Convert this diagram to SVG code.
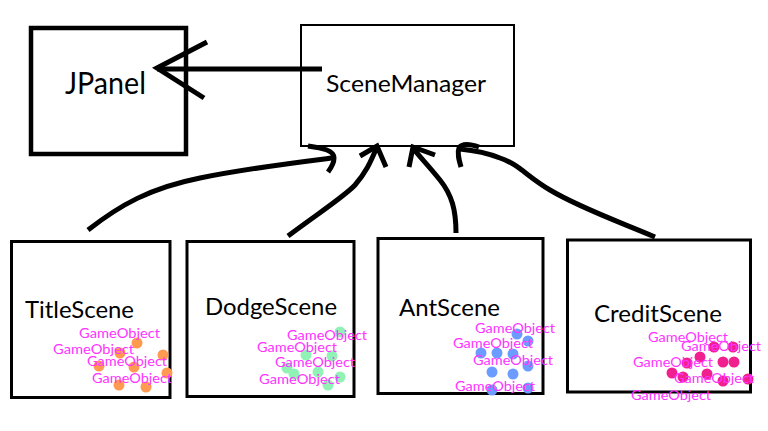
<svg xmlns="http://www.w3.org/2000/svg" width="768" height="431" viewBox="0 0 768 431">
<style>
.box{fill:#fff;stroke:#000}
.big{font-family:Lato,"Liberation Sans",sans-serif;fill:#000}
.go{font-family:Lato,"Liberation Sans",sans-serif;font-size:14px;fill:#FF33FF}
.con{fill:none;stroke:#000;stroke-width:5;stroke-linecap:butt;stroke-linejoin:miter}
.o{fill:#FF9A50}
.g{fill:#90F2B4}
.b{fill:#6C9CFF}
.p{fill:#F0208E}
</style>
<rect width="768" height="431" fill="#fff"/>
<g id="JPanel">
<rect class="box" x="31" y="28" width="155" height="126" stroke-width="4.5"/>
<text class="big" x="65" y="94" font-size="30" textLength="81" lengthAdjust="spacingAndGlyphs">JPanel</text>
</g>
<g id="SceneManager">
<rect class="box" x="301" y="25" width="213" height="121" stroke-width="2"/>
<text class="big" x="326" y="92" font-size="24" textLength="160" lengthAdjust="spacingAndGlyphs">SceneManager</text>
</g>
<g id="TitleScene">
<rect class="box" x="11.5" y="241.5" width="158.5" height="156" stroke-width="3"/>
<text class="big" x="25" y="318" font-size="24" textLength="109" lengthAdjust="spacingAndGlyphs">TitleScene</text>
<circle class="o" cx="137" cy="343" r="5.5"/><circle class="o" cx="120" cy="353" r="5.5"/><circle class="o" cx="163" cy="355" r="5.5"/><circle class="o" cx="99" cy="366" r="5.5"/><circle class="o" cx="134" cy="367" r="5.5"/><circle class="o" cx="167" cy="373" r="5.5"/><circle class="o" cx="119" cy="385" r="5.5"/><circle class="o" cx="146" cy="387" r="5.5"/>
<text class="go" x="79" y="338" textLength="81" lengthAdjust="spacingAndGlyphs">GameObject</text>
<text class="go" x="53" y="354" textLength="81" lengthAdjust="spacingAndGlyphs">GameObject</text>
<text class="go" x="87" y="366" textLength="80" lengthAdjust="spacingAndGlyphs">GameObject</text>
<text class="go" x="92" y="383" textLength="80" lengthAdjust="spacingAndGlyphs">GameObject</text>
</g>
<g id="DodgeScene">
<rect class="box" x="187" y="241.5" width="167" height="155" stroke-width="3"/>
<text class="big" x="205" y="315" font-size="24" textLength="132" lengthAdjust="spacingAndGlyphs">DodgeScene</text>
<circle class="g" cx="340" cy="332" r="5.5"/><circle class="g" cx="306" cy="355" r="5.5"/><circle class="g" cx="332" cy="356" r="5.5"/><circle class="g" cx="287" cy="368" r="5.5"/><circle class="g" cx="294" cy="374" r="5.5"/><circle class="g" cx="318" cy="372" r="5.5"/><circle class="g" cx="340" cy="377" r="5.5"/><circle class="g" cx="328" cy="385" r="5.5"/>
<text class="go" x="287" y="340" textLength="80" lengthAdjust="spacingAndGlyphs">GameObject</text>
<text class="go" x="257" y="352" textLength="80" lengthAdjust="spacingAndGlyphs">GameObject</text>
<text class="go" x="275" y="367" textLength="80" lengthAdjust="spacingAndGlyphs">GameObject</text>
<text class="go" x="259" y="384" textLength="81" lengthAdjust="spacingAndGlyphs">GameObject</text>
</g>
<g id="AntScene">
<rect class="box" x="378" y="238.5" width="165" height="155" stroke-width="3"/>
<text class="big" x="399" y="316" font-size="24" textLength="101" lengthAdjust="spacingAndGlyphs">AntScene</text>
<circle class="b" cx="517" cy="334" r="5.5"/><circle class="b" cx="528" cy="341" r="5.5"/><circle class="b" cx="481" cy="353" r="5.5"/><circle class="b" cx="497" cy="353" r="5.5"/><circle class="b" cx="513" cy="354" r="5.5"/><circle class="b" cx="528" cy="366" r="5.5"/><circle class="b" cx="492" cy="372" r="5.5"/><circle class="b" cx="513" cy="374" r="5.5"/><circle class="b" cx="492" cy="390" r="5.5"/><circle class="b" cx="528" cy="388" r="5.5"/>
<text class="go" x="475" y="333" textLength="80" lengthAdjust="spacingAndGlyphs">GameObject</text>
<text class="go" x="453" y="348" textLength="80" lengthAdjust="spacingAndGlyphs">GameObject</text>
<text class="go" x="473" y="365" textLength="80" lengthAdjust="spacingAndGlyphs">GameObject</text>
<text class="go" x="455" y="391" textLength="80" lengthAdjust="spacingAndGlyphs">GameObject</text>
</g>
<g id="CreditScene">
<rect class="box" x="567.5" y="240" width="183" height="152" stroke-width="3"/>
<text class="big" x="594" y="322" font-size="24" textLength="128" lengthAdjust="spacingAndGlyphs">CreditScene</text>
<circle class="p" cx="714" cy="347" r="5.5"/><circle class="p" cx="733" cy="347" r="5.5"/><circle class="p" cx="700" cy="357" r="5.5"/><circle class="p" cx="687" cy="363" r="5.5"/><circle class="p" cx="723" cy="362" r="5.5"/><circle class="p" cx="734" cy="362" r="5.5"/><circle class="p" cx="672" cy="373" r="5.5"/><circle class="p" cx="683" cy="377" r="5.5"/><circle class="p" cx="707" cy="374" r="5.5"/><circle class="p" cx="723" cy="381" r="5.5"/><circle class="p" cx="748" cy="379" r="5.5"/>
<text class="go" x="648" y="342" textLength="80" lengthAdjust="spacingAndGlyphs">GameObject</text>
<text class="go" x="681" y="351" textLength="80" lengthAdjust="spacingAndGlyphs">GameObject</text>
<text class="go" x="633" y="367" textLength="80" lengthAdjust="spacingAndGlyphs">GameObject</text>
<text class="go" x="674" y="383" textLength="80" lengthAdjust="spacingAndGlyphs">GameObject</text>
<text class="go" x="631" y="400" textLength="80" lengthAdjust="spacingAndGlyphs">GameObject</text>
</g>
<g id="connectors">
<path class="con" d="M322,69 L157,69"/>
<path class="con" d="M207,42 L157,68 L204,98"/>
<path class="con" d="M88,230 C120,205 150,188 200,178 C250,168 300,162 332,158"/>
<path class="con" d="M308,146 C322,148 334,150 334,158 C334,164 331,168 328,172"/>
<path class="con" d="M288,236 C320,212 345,196 355,185 C368,170 372,158 377,147"/>
<path class="con" d="M360,156 L377,146 L386,167"/>
<path class="con" d="M456,233 C456,210 452,195 440,180 C428,165 418,155 413,148"/>
<path class="con" d="M409,167 L413,147 L435,155"/>
<path class="con" d="M655,237 C620,222 580,208 550,190 C525,175 520,165 500,158 C485,152 470,150 460,149"/>
<path class="con" d="M479,147 C470,144 462,143 459,148 C457,153 459,160 461,167"/>
</g>
</svg>
